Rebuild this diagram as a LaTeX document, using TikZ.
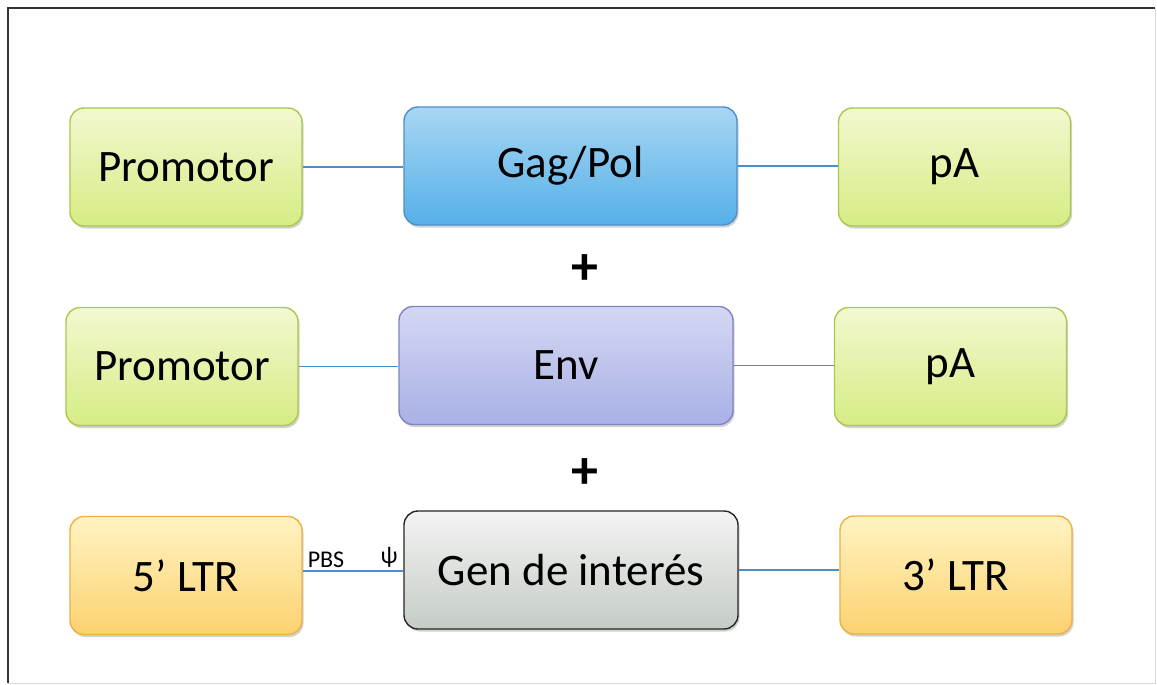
\documentclass[tikz,border=0pt]{standalone}
\usepackage{fontspec}
\setmainfont{Carlito}
\usetikzlibrary{shadows}
\definecolor{lnblue}{HTML}{4A8FC8}
\definecolor{gtop}{HTML}{F2F8D0}
\definecolor{gbot}{HTML}{D6EC84}
\definecolor{gdraw}{HTML}{A9C84E}
\definecolor{btop}{HTML}{A8D6F3}
\definecolor{bbot}{HTML}{55B0E8}
\definecolor{bdraw}{HTML}{4F8FC6}
\definecolor{etop}{HTML}{D4D7F3}
\definecolor{ebot}{HTML}{A9B1E6}
\definecolor{edraw}{HTML}{7F84C4}
\definecolor{otop}{HTML}{FFF3C2}
\definecolor{obot}{HTML}{FCD270}
\definecolor{odraw}{HTML}{EFB043}
\definecolor{stop}{HTML}{F3F3F3}
\definecolor{sbot}{HTML}{C5CCC5}
\tikzset{
  x=1pt,y=-1pt,
  box/.style={rounded corners=14pt, minimum width=232pt, minimum height=118pt, line width=1.4pt,
    font=\fontsize{45}{52}\selectfont, text=black,
    drop shadow={shadow xshift=1.5pt, shadow yshift=-2.5pt, opacity=0.35, fill=gray}},
  greenbox/.style={box, draw=gdraw, top color=gtop, bottom color=gbot},
  bluebox/.style={box, minimum width=333pt, draw=bdraw, top color=btop, bottom color=bbot},
  envbox/.style={box, minimum width=334pt, draw=edraw, top color=etop, bottom color=ebot},
  graybox/.style={box, minimum width=334pt, draw=black!85, top color=stop, bottom color=sbot},
  ltrbox/.style={box, draw=odraw, top color=otop, bottom color=obot},
  conn/.style={draw=lnblue, line width=1.2pt},
  plus/.style={font=\fontsize{54}{60}\selectfont\bfseries},
  small/.style={font=\fontsize{24}{28}\selectfont, inner sep=1pt, anchor=south}
}
\begin{document}
\begin{tikzpicture}
\useasboundingbox (0,0) rectangle (1157,685);
\fill[white] (0,0) rectangle (1157,685);
\draw[black!80, line width=2pt] (8,683) -- (8,8) -- (1155,8);
\draw[black!15, line width=1pt] (1155,8) -- (1155,683) -- (8,683);

% Row 1
\node[greenbox] (p1) at (186,167) {Promotor};
\node[bluebox] (g1) at (570.5,166) {Gag/Pol};
\node[greenbox] (a1) at (954.5,167) {pA};
\draw[conn] (p1.east) -- (p1.east -| g1.west);
\draw[conn] (g1.east) -- (g1.east -| a1.west);

\node[plus] (s1) at (585,270) {+};

% Row 2
\node[greenbox] (p2) at (182,366.5) {Promotor};
\node[envbox] (e2) at (566,365.5) {Env};
\node[greenbox] (a2) at (950.5,366.5) {pA};
\draw[conn] (p2.east) -- (p2.east -| e2.west);
\draw[conn] (e2.east) -- (e2.east -| a2.west);

\node[plus] (s2) at (585,474) {+};

% Row 3
\node[ltrbox] (l5) at (186,575.5) {5’ LTR};
\node[graybox] (gi) at (571,570) {Gen de interés};
\node[ltrbox] (l3) at (956,575) {3’ LTR};
\coordinate (c3) at (l5.east |- 0,571);
\draw[conn] (c3) -- (c3 -| gi.west);
\draw[conn] (gi.east) -- (gi.east -| l3.west);
\node[small] (pbs) at (326,569) {PBS};
\node[small] (psi) at (389,569) {ψ};
\end{tikzpicture}
\end{document}
